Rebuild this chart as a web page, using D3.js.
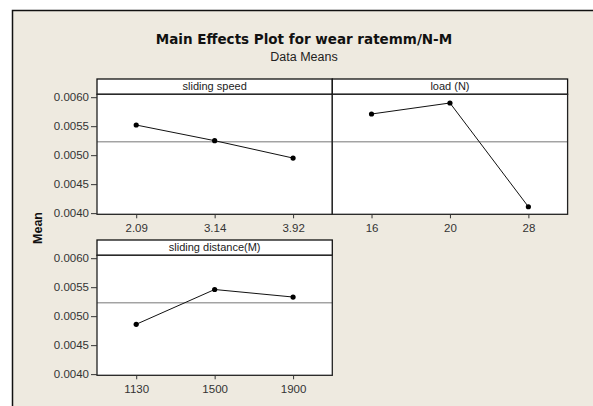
<!DOCTYPE html>
<html>
<head>
<meta charset="utf-8">
<script src="https://cdn.jsdelivr.net/npm/d3@7"></script>
<style>
  body { margin: 0; background: #fff; }
  svg { display: block; font-family: "Liberation Sans", Arial, sans-serif; }
</style>
</head>
<body>
<div class="chart"></div>
<script>
const w = 593;
const h = 406;

// factor names and level means
const factors = ["sliding speed", "load (N)", "sliding distance(M)"];
const speedLevels = ["2.09", "3.14", "3.92"];
const speedMeans = [0.00552, 0.00525, 0.00495];
const loadLevels = ["16", "20", "28"];
const loadMeans = [0.00571, 0.00590, 0.00411];
const distLevels = ["1130", "1500", "1900"];
const distMeans = [0.00486, 0.00546, 0.00533];
const grandMean = 0.00523;
const yTicks = [0.0040, 0.0045, 0.0050, 0.0055, 0.0060];

const panels = [
  { name: factors[0], levels: speedLevels, means: speedMeans, px: 97, py: 79, yaxis: true },
  { name: factors[1], levels: loadLevels, means: loadMeans, px: 332.3, py: 79, yaxis: false },
  { name: factors[2], levels: distLevels, means: distMeans, px: 97, py: 240, yaxis: true }
];

const pw = 235.3;   // panel width
const sh = 15.3;    // strip height
const ph = 120;     // plot height

let svg = d3.select(".chart")
  .append("svg")
  .attr("width", w)
  .attr("height", h);

// outer frame (runs off the right and bottom edges)
svg.append("rect")
  .attr("x", 12.5).attr("y", 10.5)
  .attr("width", 700).attr("height", 500)
  .attr("fill", "#eeeae0")
  .attr("stroke", "#111")
  .attr("stroke-width", 1.5);

svg.append("text")
  .attr("x", 304).attr("y", 44)
  .attr("text-anchor", "middle")
  .attr("font-family", "DejaVu Sans, sans-serif")
  .attr("font-size", 13.5)
  .attr("font-weight", "bold")
  .attr("fill", "#111")
  .text("Main Effects Plot for wear ratemm/N-M");

svg.append("text")
  .attr("x", 304).attr("y", 61)
  .attr("text-anchor", "middle")
  .attr("font-size", 12.5)
  .attr("fill", "#222")
  .text("Data Means");

svg.append("text")
  .attr("transform", "translate(42,228) rotate(-90)")
  .attr("text-anchor", "middle")
  .attr("font-size", 12.5)
  .attr("font-weight", "bold")
  .attr("fill", "#111")
  .text("Mean");

let y = d3.scaleLinear()
  .domain([0.00398, 0.00605])
  .range([ph, 0]);

panels.forEach((p) => {
  let x = d3.scalePoint()
    .domain(p.levels)
    .range([0, pw])
    .padding(0.5);

  let g = svg.append("g")
    .attr("transform", "translate(" + p.px + "," + p.py + ")");

  // strip
  g.append("rect")
    .attr("width", pw).attr("height", sh)
    .attr("fill", "#fff")
    .attr("stroke", "#111").attr("stroke-width", 1.3);
  g.append("text")
    .attr("x", pw / 2).attr("y", sh - 4)
    .attr("text-anchor", "middle")
    .attr("font-size", 11)
    .attr("fill", "#222")
    .text(p.name);

  let plot = g.append("g").attr("transform", "translate(0," + sh + ")");

  plot.append("rect")
    .attr("width", pw).attr("height", ph)
    .attr("fill", "#fff");

  // grand mean reference line
  plot.append("line")
    .attr("x1", 0).attr("x2", pw)
    .attr("y1", y(grandMean)).attr("y2", y(grandMean))
    .attr("stroke", "#777").attr("stroke-width", 1);

  let pts = p.levels.map((l, i) => ({ level: l, mean: p.means[i] }));

  plot.append("path")
    .datum(pts)
    .attr("fill", "none")
    .attr("stroke", "#111")
    .attr("stroke-width", 1)
    .attr("d", d3.line().x((d) => x(d.level)).y((d) => y(d.mean)));

  plot.selectAll("circle")
    .data(pts)
    .enter()
    .append("circle")
    .attr("cx", (d) => x(d.level))
    .attr("cy", (d) => y(d.mean))
    .attr("r", 2.6)
    .attr("fill", "#000");

  plot.append("rect")
    .attr("width", pw).attr("height", ph)
    .attr("fill", "none")
    .attr("stroke", "#222").attr("stroke-width", 1.3);

  let xa = plot.append("g")
    .attr("transform", "translate(0," + ph + ")")
    .call(d3.axisBottom(x).tickSize(4).tickPadding(6));
  xa.select(".domain").remove();
  xa.selectAll("line").attr("stroke", "#333");
  xa.selectAll("text").attr("font-size", 11.5).attr("fill", "#333")
    .attr("font-family", "Liberation Sans, Arial, sans-serif");

  if (p.yaxis) {
    let ya = plot.append("g")
      .call(d3.axisLeft(y).tickValues(yTicks).tickFormat(d3.format(".4f")).tickSize(6).tickPadding(2));
    ya.select(".domain").remove();
    ya.selectAll("line").attr("stroke", "#333");
    ya.selectAll("text").attr("font-size", 11.5).attr("fill", "#333")
      .attr("font-family", "Liberation Sans, Arial, sans-serif");
  }
});
</script>
</body>
</html>
